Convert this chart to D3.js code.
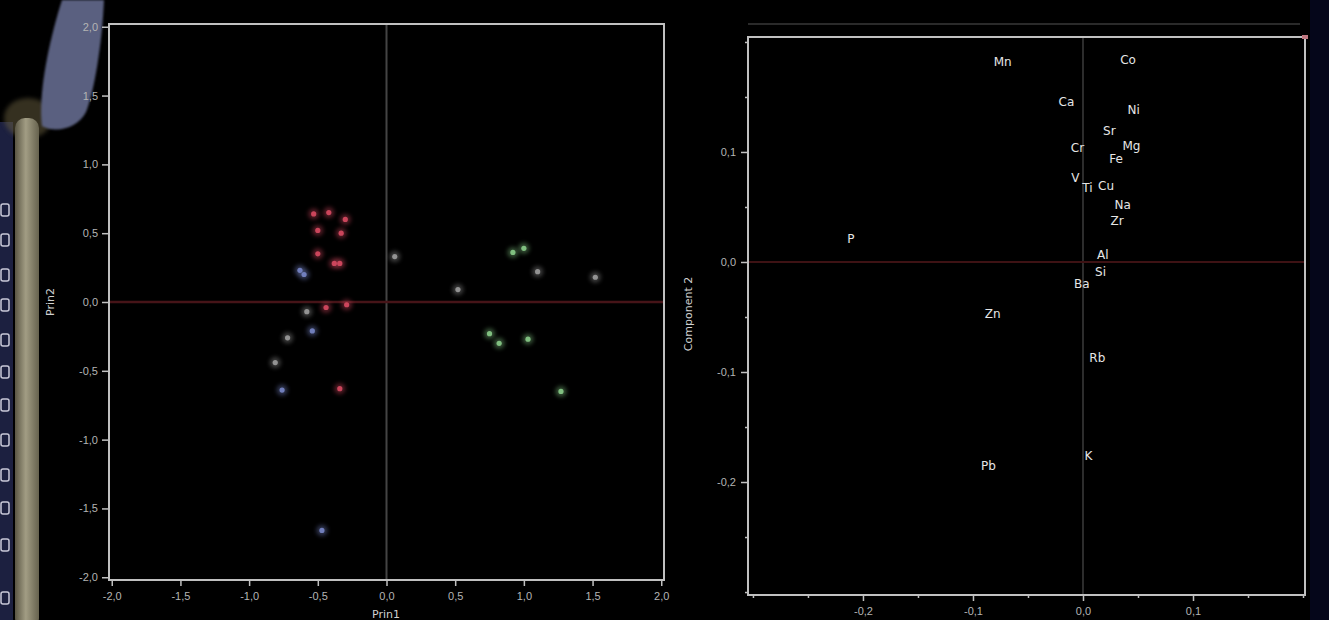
<!DOCTYPE html>
<html>
<head>
<meta charset="utf-8">
<script src="https://cdn.jsdelivr.net/npm/d3@7"></script>
<style>
  html, body { margin: 0; padding: 0; background: #000; }
  svg { display: block; font-family: "DejaVu Sans", sans-serif; }
</style>
</head>
<body>
<div id="chart"></div>
<script>
// score plot (Prin1 / Prin2)
const scoreGroup = ["red","red","red","red","red","red","red","red","red","red","red",
  "blue","blue","blue","blue","blue",
  "gray","gray","gray","gray","gray","gray","gray",
  "green","green","green","green","green","green"];
const scoreX = [-0.53,-0.42,-0.30,-0.50,-0.33,-0.50,-0.38,-0.34,-0.29,-0.34,-0.44,
  -0.63,-0.60,-0.54,-0.76,-0.47,
  -0.58,-0.72,-0.81,0.06,1.10,1.52,0.52,
  0.92,1.00,0.75,0.82,1.03,1.27];
const scoreY = [0.64,0.65,0.60,0.52,0.50,0.35,0.28,0.28,-0.02,-0.63,-0.04,
  0.23,0.20,-0.21,-0.64,-1.66,
  -0.07,-0.26,-0.44,0.33,0.22,0.18,0.09,
  0.36,0.39,-0.23,-0.30,-0.27,-0.65];
const groupColor = { red: "#d84a62", blue: "#7886c8", gray: "#9c9c9c", green: "#88cc88" };
const scoreTicks = [-2, -1.5, -1, -0.5, 0, 0.5, 1, 1.5, 2];

// loading plot (Component 1 / Component 2)
const loadLabel = ["Mn","Co","Ca","Ni","Sr","Cr","Mg","Fe","V","Ti","Cu","Na","Zr","Al","Si","Ba","Zn","P","Rb","K","Pb"];
const loadX = [-0.073,0.041,-0.015,0.046,0.024,-0.005,0.044,0.030,-0.007,0.004,0.021,0.036,0.031,0.018,0.016,-0.001,-0.082,-0.211,0.013,0.005,-0.086];
const loadY = [0.182,0.184,0.145,0.138,0.119,0.104,0.105,0.094,0.076,0.067,0.069,0.052,0.037,0.006,-0.009,-0.020,-0.047,0.021,-0.087,-0.176,-0.185];
const loadTicks = [-0.2, -0.1, 0, 0.1];
const loadMinor = [-0.3, -0.25, -0.15, -0.05, 0.05, 0.15, 0.2];

const W = 1329, H = 620;
const fmt = v => d3.format(".1f")(v).replace("−", "-").replace(".", ",");

const svg = d3.select("#chart").append("svg").attr("width", W).attr("height", H);
svg.append("rect").attr("width", W).attr("height", H).attr("fill", "#000");

const defs = svg.append("defs");
defs.append("filter").attr("id", "glow").attr("x", "-200%").attr("y", "-200%").attr("width", "500%").attr("height", "500%")
  .append("feGaussianBlur").attr("stdDeviation", 2.2);
defs.append("filter").attr("id", "soft").append("feGaussianBlur").attr("stdDeviation", 1);
const bar = defs.append("linearGradient").attr("id", "bar").attr("x1", "0").attr("x2", "1");
bar.append("stop").attr("offset", "0").attr("stop-color", "#5a5644");
bar.append("stop").attr("offset", "0.45").attr("stop-color", "#a29d84");
bar.append("stop").attr("offset", "1").attr("stop-color", "#66624e");

// decorations at the left edge of the photo
svg.append("rect").attr("x", 0).attr("y", 122).attr("width", 13).attr("height", 498).attr("fill", "#1c2040");
svg.append("ellipse").attr("cx", 28).attr("cy", 118).attr("rx", 24).attr("ry", 20).attr("fill", "#6a6040").attr("opacity", 0.5).attr("filter", "url(#glow)");
svg.append("rect").attr("x", 15).attr("y", 118).attr("width", 24).attr("height", 510).attr("rx", 10).attr("fill", "url(#bar)");
svg.append("path").attr("d", "M62,0 L104,0 C102,45 94,92 86,112 C78,128 56,134 42,126 C38,96 48,44 62,0 Z")
  .attr("fill", "#5a6080").attr("filter", "url(#soft)");
[210, 240, 275, 305, 340, 372, 405, 440, 475, 508, 545, 598].forEach(y => {
  svg.append("rect").attr("x", 1).attr("y", y - 6).attr("width", 8).attr("height", 12).attr("rx", 2)
    .attr("fill", "none").attr("stroke", "#c8c8d8").attr("stroke-width", 1.5);
});
svg.append("rect").attr("x", 1310).attr("y", 0).attr("width", 19).attr("height", H).attr("fill", "#05061a");

const axisColor = "#c0c0c0", tickText = "#b4b4b4";

function styleAxis(g) {
  g.select(".domain").remove();
  g.selectAll(".tick line").attr("stroke", axisColor).attr("stroke-width", 1.5);
  g.selectAll(".tick text").attr("fill", tickText).attr("font-size", 11);
}

// ---------- left: scores ----------
const x1 = d3.scaleLinear().domain([-2.02, 2.02]).range([109, 664]);
const y1 = d3.scaleLinear().domain([-2.02, 2.02]).range([580, 24]);

const left = svg.append("g");
left.append("line").attr("x1", x1(0)).attr("x2", x1(0)).attr("y1", 24).attr("y2", 580)
  .attr("stroke", "#444").attr("stroke-width", 2);
left.append("line").attr("x1", 109).attr("x2", 664).attr("y1", y1(0)).attr("y2", y1(0))
  .attr("stroke", "#461418").attr("stroke-width", 2.5);

left.append("g").attr("transform", "translate(0,580)")
  .call(d3.axisBottom(x1).tickValues(scoreTicks).tickFormat(fmt).tickSize(6).tickPadding(6)).call(styleAxis);
left.append("g").attr("transform", "translate(109,0)")
  .call(d3.axisLeft(y1).tickValues(scoreTicks).tickFormat(fmt).tickSize(7).tickPadding(4)).call(styleAxis);
left.append("rect").attr("x", 109).attr("y", 24).attr("width", 555).attr("height", 556)
  .attr("fill", "none").attr("stroke", axisColor).attr("stroke-width", 2);

const pts = d3.range(scoreX.length);
left.append("g").selectAll("circle").data(pts).join("circle")
  .attr("cx", i => x1(scoreX[i])).attr("cy", i => y1(scoreY[i])).attr("r", 5.5)
  .attr("fill", i => groupColor[scoreGroup[i]]).attr("opacity", 0.4).attr("filter", "url(#glow)");
left.append("g").selectAll("circle").data(pts).join("circle")
  .attr("cx", i => x1(scoreX[i])).attr("cy", i => y1(scoreY[i])).attr("r", 2.6)
  .attr("fill", i => groupColor[scoreGroup[i]]).attr("opacity", 0.9);

left.append("text").attr("transform", "translate(54,302) rotate(-90)").attr("text-anchor", "middle")
  .attr("fill", "#d0d0d0").attr("font-size", 11).text("Prin2");
left.append("text").attr("x", 386).attr("y", 618).attr("text-anchor", "middle")
  .attr("fill", "#d0d0d0").attr("font-size", 11).text("Prin1");

// ---------- right: loadings ----------
const x2 = d3.scaleLinear().domain([-0.3045, 0.2018]).range([748, 1305]);
const y2 = d3.scaleLinear().domain([-0.3027, 0.2045]).range([595, 37]);

const right = svg.append("g");
right.append("line").attr("x1", 748).attr("x2", 1300).attr("y1", 24).attr("y2", 24)
  .attr("stroke", "#555").attr("stroke-width", 1);
right.append("line").attr("x1", x2(0)).attr("x2", x2(0)).attr("y1", 37).attr("y2", 595)
  .attr("stroke", "#3c3c3c").attr("stroke-width", 1.5);
right.append("line").attr("x1", 748).attr("x2", 1305).attr("y1", y2(0)).attr("y2", y2(0))
  .attr("stroke", "#3e1214").attr("stroke-width", 2);

right.append("g").attr("transform", "translate(0,595)")
  .call(d3.axisBottom(x2).tickValues(loadMinor).tickFormat("").tickSize(3)).call(styleAxis);
right.append("g").attr("transform", "translate(0,595)")
  .call(d3.axisBottom(x2).tickValues(loadTicks).tickFormat(fmt).tickSize(6).tickPadding(6)).call(styleAxis);
right.append("g").attr("transform", "translate(748,0)")
  .call(d3.axisLeft(y2).tickValues(loadMinor).tickFormat("").tickSize(3)).call(styleAxis);
right.append("g").attr("transform", "translate(748,0)")
  .call(d3.axisLeft(y2).tickValues(loadTicks).tickFormat(fmt).tickSize(7).tickPadding(5)).call(styleAxis);
right.append("rect").attr("x", 748).attr("y", 37).attr("width", 557).attr("height", 558)
  .attr("fill", "none").attr("stroke", axisColor).attr("stroke-width", 2);
right.append("rect").attr("x", 1302).attr("y", 35).attr("width", 6).attr("height", 4).attr("fill", "#c07880");

right.append("g").selectAll("text").data(d3.range(loadLabel.length)).join("text")
  .attr("x", i => x2(loadX[i])).attr("y", i => y2(loadY[i]))
  .attr("text-anchor", "middle").attr("dominant-baseline", "central")
  .attr("fill", "#e6e6e6").attr("font-size", 12).text(i => loadLabel[i]);

right.append("text").attr("transform", "translate(692,314) rotate(-90)").attr("text-anchor", "middle")
  .attr("fill", "#d0d0d0").attr("font-size", 11).text("Component 2");
</script>
</body>
</html>
